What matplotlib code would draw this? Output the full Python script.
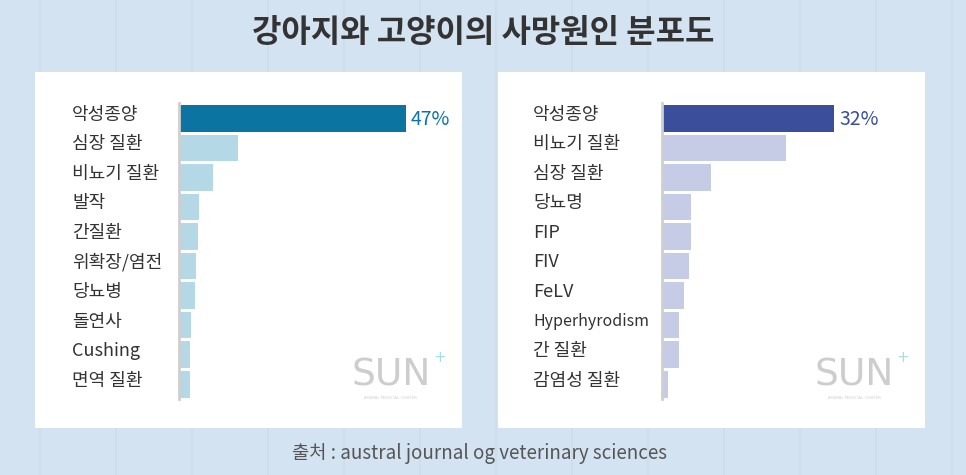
import matplotlib.pyplot as plt
from matplotlib.patches import Rectangle
from matplotlib.transforms import blended_transform_factory

plt.rcParams['font.family'] = ['Noto Sans CJK KR', 'DejaVu Sans']

# data
dog_labels = ['악성종양', '심장 질환', '비뇨기 질환', '발작', '간질환',
              '위확장/염전', '당뇨병', '돌연사', 'Cushing', '면역 질환']
dog_values = [47, 12.3, 7.1, 4.3, 4.0, 3.7, 3.5, 2.6, 2.4, 2.4]

cat_labels = ['악성종양', '비뇨기 질환', '심장 질환', '당뇨명', 'FIP',
              'FIV', 'FeLV', 'Hyperhyrodism', '간 질환', '감염성 질환']
cat_values = [32, 23.1, 9.2, 5.4, 5.4, 5.0, 4.2, 3.2, 3.2, 1.2]

W, H = 966, 475
fig = plt.figure(figsize=(W / 100, H / 100), dpi=100)
fig.patch.set_facecolor('#d4e3f1')

# faint background stripes
for gx in range(40, W, 76):
    fig.add_artist(plt.Line2D([gx / W, gx / W], [0, 1], color='#cddcea', lw=1.2, zorder=0))


def px_box(x0, y0, x1, y1):
    # pixel box (top-left origin) -> figure fraction rect
    return [x0 / W, 1 - y1 / H, (x1 - x0) / W, (y1 - y0) / H]


# white panels
for x0, x1 in [(35, 462), (498, 925)]:
    r = px_box(x0, 72, x1, 428)
    fig.add_artist(Rectangle((r[0], r[1]), r[2], r[3], transform=fig.transFigure,
                             facecolor='white', edgecolor='none', zorder=1))

fig.text(0.5, 1 - 33 / H, '강아지와 고양이의 사망원인 분포도', ha='center', va='center',
         fontsize=23, color='#333333', fontweight='bold')
fig.text(0.496, 1 - 453 / H, '출처 : austral journal og veterinary sciences', ha='center',
         va='center', fontsize=13.5, color='#555555')


def panel(labels, values, ax_x0, ax_x1, scale, label_x, dark, light, logo_x):
    ax = fig.add_axes(px_box(ax_x0, 103.5, ax_x1, 399))
    ax.set_zorder(2)
    ax.patch.set_alpha(0)
    ys = list(range(len(values)))
    colors = [dark] + [light] * (len(values) - 1)
    ax.barh(ys, values, height=0.9, color=colors)
    ax.set_ylim(len(values) - 0.5, -0.5)
    ax.set_xlim(0, (ax_x1 - ax_x0) / scale)
    for s in ['top', 'right', 'bottom']:
        ax.spines[s].set_visible(False)
    ax.spines['left'].set_color('#cfcfcf')
    ax.spines['left'].set_linewidth(2)
    ax.set_xticks([])
    ax.set_yticks([])
    tr = blended_transform_factory(fig.transFigure, ax.transData)
    for y, lab in zip(ys, labels):
        fs = 11.5 if len(lab) > 10 else 13
        ax.text(label_x / W, y - 0.12, lab, transform=tr, ha='left', va='center',
                fontsize=fs, color='#333333', fontweight='medium')
    ax.text(values[0] + 1, 0.05, f'{values[0]:.0f}%', ha='left', va='center',
            fontsize=14, color=dark)
    # watermark logo
    fig.text(logo_x / W, 1 - 375 / H, 'SUN', ha='center', va='center', fontsize=27,
             color='#cdcdcd', zorder=3, family=['DejaVu Sans'])
    fig.text(logo_x / W, 1 - 398 / H, 'ANIMAL MEDICAL CENTER', ha='center', va='center',
             fontsize=3, color='#d0d0d0', zorder=3, family=['DejaVu Sans'])
    fig.text((logo_x + 49) / W, 1 - 358 / H, '+', ha='center', va='center', fontsize=11,
             color='#a9dde6', zorder=3, family=['DejaVu Sans'])


panel(dog_labels, dog_values, 178.5, 460, 227 / 47, 72, '#0b74a0', '#b4d8e6', 391)
panel(cat_labels, cat_values, 661.7, 923, 172 / 32, 533, '#3a4e9c', '#c7cce6', 854)

fig.savefig('out.png', dpi=100, facecolor=fig.get_facecolor())
